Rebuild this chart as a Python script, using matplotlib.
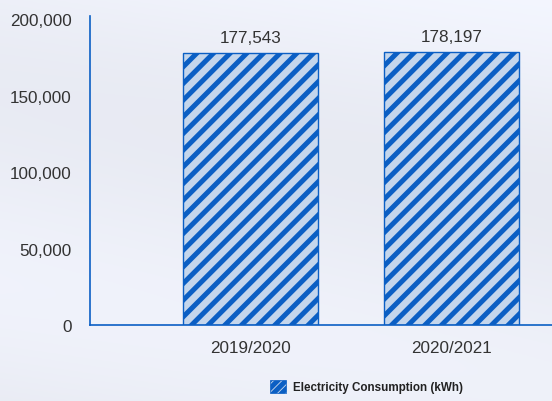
import numpy as np
import matplotlib
matplotlib.use("Agg")
import matplotlib.pyplot as plt
from matplotlib.patches import Patch

categories = ["2019/2020", "2020/2021"]
consumption = [177543, 178197]
series_name = "Electricity Consumption (kWh)"
y_ticks = [0, 50000, 100000, 150000, 200000]

blue = "#0b5fc4"
light = "#c4d6ec"
text_col = "#333333"

plt.rcParams["font.family"] = ["Liberation Sans", "DejaVu Sans"]
plt.rcParams["hatch.linewidth"] = 3.6
plt.rcParams["hatch.color"] = blue

fig = plt.figure(figsize=(5.52, 4.02), dpi=100)

# soft sky-like background
bg = fig.add_axes([0, 0, 1, 1], zorder=-10)
yy = np.linspace(0, 1, 200)[:, None]
xx = np.linspace(0, 1, 200)[None, :]
grad = 0.94 + 0.02 * np.sin(yy * 6.0 + xx * 1.5) + 0.02 * yy
rgb = np.dstack([grad * 0.975, grad * 0.985, np.clip(grad * 1.02, 0, 1)])
bg.imshow(rgb, aspect="auto", extent=[0, 1, 0, 1], origin="lower")
bg.axis("off")

ax = fig.add_axes([90 / 552, (402 - 326) / 402, (552 - 90) / 552, (326 - 17) / 402])
ax.patch.set_alpha(0)
x = np.arange(len(categories))
bars = ax.bar(x, consumption, width=0.67, color=light, edgecolor=blue,
              linewidth=1.0, hatch="//")
for xi, v in zip(x, consumption):
    ax.text(xi, v + 5500, f"{v:,}", ha="center", va="bottom", fontsize=12.3,
            color=text_col)

ax.set_xlim(-0.8, 1.5)
ax.set_ylim(0, 202000)
ax.set_yticks(y_ticks)
ax.set_yticklabels([f"{t:,}" for t in y_ticks], fontsize=12.3, color=text_col)
ax.set_xticks(x)
ax.set_xticklabels(categories, fontsize=12.3, color=text_col)
ax.tick_params(axis="y", length=0, pad=13)
ax.tick_params(axis="x", length=0, pad=11)
for s in ["top", "right"]:
    ax.spines[s].set_visible(False)
for s in ["left", "bottom"]:
    ax.spines[s].set_color(blue)
    ax.spines[s].set_linewidth(1.2)

handle = Patch(facecolor=light, edgecolor=blue, hatch="////", linewidth=0.5)
fig.legend([handle], [series_name], loc="lower left",
           bbox_to_anchor=(259 / 552, -3 / 402), frameon=False,
           prop={"size": 8.4, "weight": "bold"}, handlelength=1.45,
           handleheight=1.35, handletextpad=0.55, labelcolor="#222222")

fig.savefig("out.png", dpi=100)
